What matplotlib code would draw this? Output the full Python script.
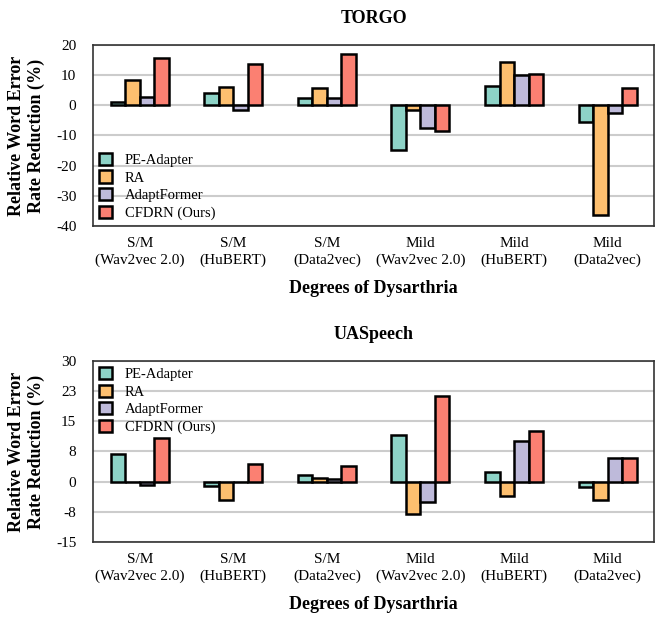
import matplotlib
matplotlib.use("Agg")
import matplotlib.pyplot as plt
import numpy as np

plt.rcParams['font.family'] = ['Liberation Serif', 'DejaVu Serif']

categories = ["S/M\n(Wav2vec 2.0)", "S/M\n(HuBERT)", "S/M\n(Data2vec)",
              "Mild\n(Wav2vec 2.0)", "Mild\n(HuBERT)", "Mild\n(Data2vec)"]
methods = ["PE-Adapter", "RA", "AdaptFormer", "CFDRN (Ours)"]
colors = ["#8dd3c7", "#fdbf6f", "#bebada", "#fb8072"]

torgo_pe = [1.1, 4.2, 2.3, -14.8, 6.4, -5.6]
torgo_ra = [8.3, 5.9, 5.7, -1.7, 14.4, -36.5]
torgo_af = [2.6, -1.7, 2.3, -7.5, 10.0, -2.4]
torgo_cf = [15.6, 13.6, 16.9, -8.5, 10.4, 5.8]

ua_pe = [6.8, -1.1, 1.6, 11.5, 2.3, -1.4]
ua_ra = [0.0, -4.6, 0.9, -8.1, -3.6, -4.6]
ua_af = [-0.8, 0.0, 0.6, -5.1, 10.2, 5.8]
ua_cf = [10.8, 4.4, 3.9, 21.4, 12.5, 5.8]

torgo_ticks = [20, 10, 0, -10, -20, -30, -40]
torgo_ticklabels = ["20", "10", "0", "-10", "-20", "-30", "-40"]
ua_ticks = [30, 22.5, 15, 7.5, 0, -7.5, -15]
ua_ticklabels = ["30", "23", "15", "8", "0", "-8", "-15"]

fig = plt.figure(figsize=(6.55, 6.2), dpi=100)
ax1 = fig.add_axes([0.142, 0.6355, 0.857, 0.292])
ax2 = fig.add_axes([0.142, 0.1258, 0.857, 0.292])

def draw(ax, series, title, ticks, ticklabels, ylim, legend_loc, pad):
    x = np.arange(len(categories))
    w = 0.155
    for j, (vals, c, name) in enumerate(zip(series, colors, methods)):
        ax.bar(x + (j - 1.5) * w, vals, width=w, color=c, edgecolor='black',
               linewidth=1.8, label=name, zorder=3)
    ax.set_xlim(-0.5, len(categories) - 0.5)
    ax.set_ylim(*ylim)
    ax.set_yticks(ticks)
    ax.set_yticklabels(ticklabels, fontsize=11)
    ax.set_xticks(x)
    ax.set_xticklabels(categories, fontsize=11, linespacing=1.35)
    ax.tick_params(axis='x', length=0, pad=8)
    ax.tick_params(axis='y', length=0, pad=12)
    ax.yaxis.grid(True, color='#cccccc', linewidth=1.5, zorder=0)
    ax.set_axisbelow(True)
    for s in ax.spines.values():
        s.set_color('#333333')
        s.set_linewidth(1.2)
    ax.set_title(title, fontsize=13, fontweight='bold', pad=16)
    ax.set_xlabel("Degrees of Dysarthria", fontsize=13, fontweight='bold', labelpad=9)
    ax.set_ylabel("Relative Word Error\nRate Reduction (%)", fontsize=13,
                  fontweight='bold', labelpad=8)
    ax.legend(loc=legend_loc, frameon=False, fontsize=10.5, handlelength=0.9,
              handleheight=0.9, handletextpad=0.9, labelspacing=0.25,
              borderaxespad=pad)

draw(ax1, [torgo_pe, torgo_ra, torgo_af, torgo_cf], "TORGO",
     torgo_ticks, torgo_ticklabels, (-40, 20), 'lower left', 0.0)
draw(ax2, [ua_pe, ua_ra, ua_af, ua_cf], "UASpeech",
     ua_ticks, ua_ticklabels, (-15, 30), 'upper left', 0.0)

fig.savefig("out.png", dpi=100)
